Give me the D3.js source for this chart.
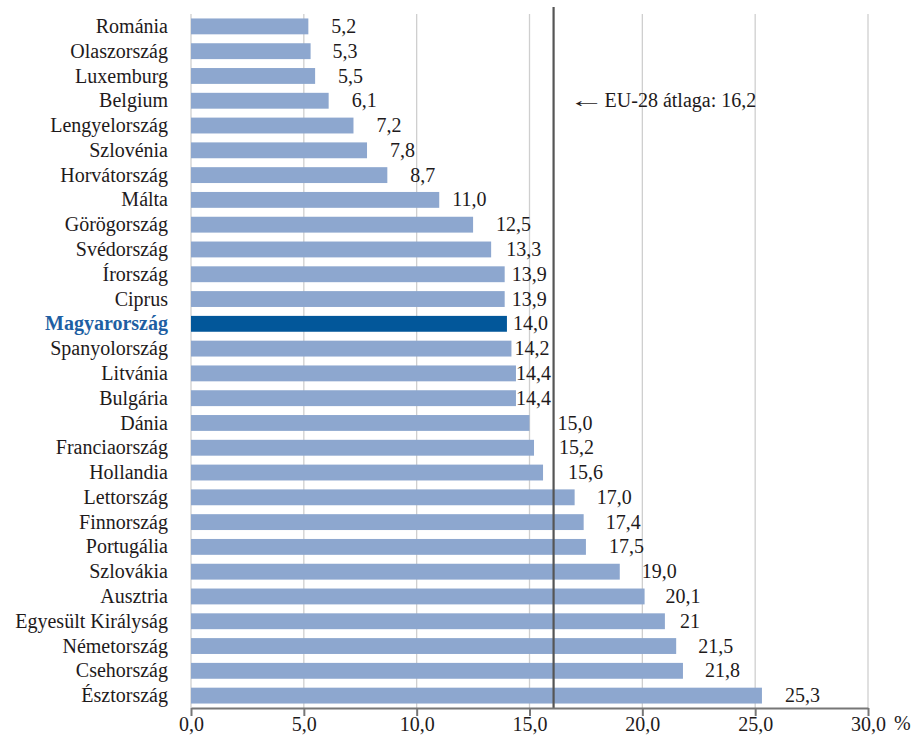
<!DOCTYPE html>
<html><head><meta charset="utf-8">
<script src="https://cdn.jsdelivr.net/npm/d3@7"></script>
<style>body{margin:0;background:#fff}</style>
</head><body>
<script>
const countries = ["Románia","Olaszország","Luxemburg","Belgium","Lengyelország","Szlovénia","Horvátország","Málta","Görögország","Svédország","Írország","Ciprus","Magyarország","Spanyolország","Litvánia","Bulgária","Dánia","Franciaország","Hollandia","Lettország","Finnország","Portugália","Szlovákia","Ausztria","Egyesült Királyság","Németország","Csehország","Észtország"];
const values = [5.2,5.3,5.5,6.1,7.2,7.8,8.7,11.0,12.5,13.3,13.9,13.9,14.0,14.2,14.4,14.4,15.0,15.2,15.6,17.0,17.4,17.5,19.0,20.1,21,21.5,21.8,25.3];
const valueLabels = ["5,2","5,3","5,5","6,1","7,2","7,8","8,7","11,0","12,5","13,3","13,9","13,9","14,0","14,2","14,4","14,4","15,0","15,2","15,6","17,0","17,4","17,5","19,0","20,1","21","21,5","21,8","25,3"];
const highlight = "Magyarország";
const euAverage = 16.2;
const euArrow = "←";
const euLabel = "EU-28 átlaga: 16,2";
const ticks = [0,5,10,15,20,25,30];
const tickLabels = ["0,0","5,0","10,0","15,0","20,0","25,0","30,0"];

// layout: pixel gap between bar end and its value label (labels were hand-placed in the original)
const labelGap = [23,22,23,23,23,23,23,13,23,15,7,7,6,3,0,0,28,25,25,22,22,23,22,21,15,22,22,23];

const W=913,H=740;
const m={left:191,right:45,top:14,bottom:32};
const FF='"Liberation Serif"';
const svg=d3.select("body").append("svg").attr("width",W).attr("height",H);
const x=d3.scaleLinear().domain([0,30]).range([m.left,W-m.right]);
const y=d3.scaleBand().domain(countries).range([m.top,H-m.bottom]).paddingInner(0.36).paddingOuter(0.18);
const FS=20, TXT="#1e1a1b";

// gridlines
svg.append("g").selectAll("line").data(ticks.slice(1)).join("line")
  .attr("x1",d=>x(d)).attr("x2",d=>x(d)).attr("y1",m.top).attr("y2",H-m.bottom)
  .attr("stroke","#cfcfcf").attr("stroke-width",1.3);
svg.append("line").attr("x1",x(0)).attr("x2",x(0)).attr("y1",m.top).attr("y2",H-m.bottom)
  .attr("stroke","#cfcfcf").attr("stroke-width",1.3);

// bars
svg.append("g").selectAll("rect").data(countries).join("rect")
  .attr("x",x(0)).attr("y",d=>y(d)).attr("height",y.bandwidth())
  .attr("width",(d,i)=>x(values[i])-x(0))
  .attr("fill",d=>d===highlight?"#02579A":"#8DA7CF");

// EU line
svg.append("line").attr("x1",x(euAverage)-3).attr("x2",x(euAverage)-3).attr("y1",7).attr("y2",H-m.bottom)
  .attr("stroke","#555").attr("stroke-width",2.2);

// x axis
const ax=svg.append("g").attr("transform",`translate(0,${H-m.bottom})`)
  .call(d3.axisBottom(x).tickValues(ticks).tickFormat((d,i)=>tickLabels[i]).tickSize(8).tickSizeOuter(0));
ax.attr("font-family",FF).attr("font-size",FS);
ax.select(".domain").attr("stroke","#777").attr("stroke-width",2);
ax.selectAll(".tick line").attr("stroke","#777").attr("stroke-width",2);
ax.selectAll(".tick text").attr("font-family",FF).attr("font-size",FS).attr("fill",TXT).attr("dy","0.6em");
svg.append("text").attr("x",x(30)+26).attr("y",H-m.bottom+22).attr("font-family",FF).attr("font-size",FS).attr("fill",TXT).text("%");

// category labels
svg.append("g").selectAll("text").data(countries).join("text")
  .attr("x",168).attr("y",d=>y(d)+y.bandwidth()/2).attr("dy","0.33em")
  .attr("text-anchor","end").attr("font-family",FF).attr("font-size",FS)
  .attr("fill",d=>d===highlight?"#1F5FA3":TXT)
  .attr("font-weight",d=>d===highlight?"bold":"normal")
  .text(d=>d);

// value labels
svg.append("g").selectAll("text").data(countries).join("text")
  .attr("x",(d,i)=>x(values[i])+labelGap[i]).attr("y",d=>y(d)+y.bandwidth()/2).attr("dy","0.33em")
  .attr("font-family",FF).attr("font-size",FS).attr("fill",TXT)
  .text((d,i)=>valueLabels[i]);

// annotation
const ay=y("Belgium")+y.bandwidth()/2;
const ax0=x(euAverage)+12;
svg.append("text").attr("transform",`translate(${ax0},${ay}) scale(1.8,1)`).attr("dy","0.33em")
  .attr("font-family",FF).attr("font-size",FS).attr("fill",TXT).text(euArrow);
svg.append("text").attr("x",x(euAverage)+48).attr("y",ay).attr("dy","0.33em")
  .attr("font-family",FF).attr("font-size",FS).attr("fill",TXT).text(euLabel);
</script>
</body></html>
